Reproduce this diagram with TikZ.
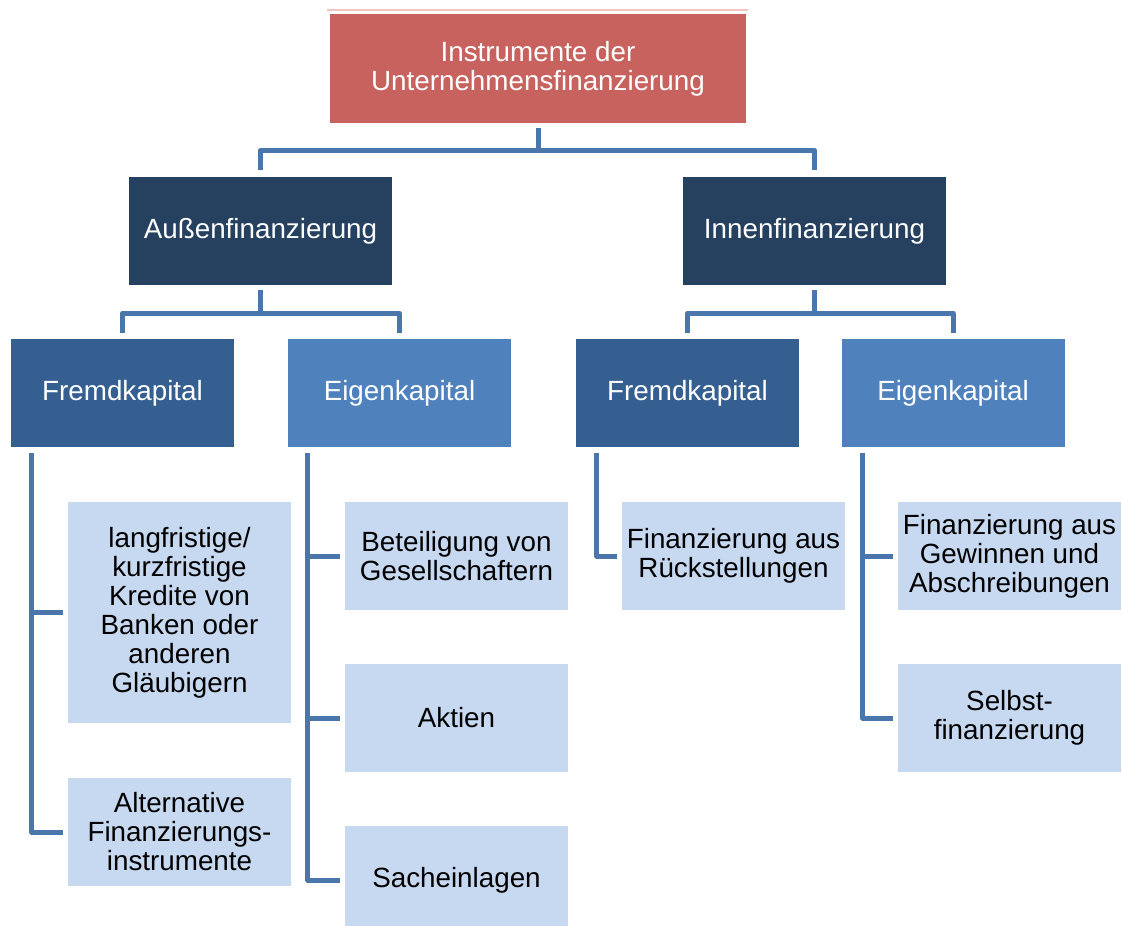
\documentclass[tikz,border=0pt]{standalone}
\usepackage{fontspec}
\setmainfont{Liberation Sans}
\definecolor{topred}{RGB}{200,98,94}
\definecolor{navy}{RGB}{38,64,96}
\definecolor{midblue}{RGB}{54,95,145}
\definecolor{ltblue}{RGB}{79,129,189}
\definecolor{paleblue}{RGB}{198,217,241}
\definecolor{linecol}{RGB}{74,118,172}
\definecolor{faint}{RGB}{242,196,194}
\tikzset{
  box/.style={rectangle, inner sep=0pt, minimum width=223pt, minimum height=108pt, align=center,
    font=\fontsize{27.8}{29}\selectfont},
  topbox/.style={box, fill=topred, text=white, minimum width=416pt, minimum height=109pt},
  l1box/.style={box, fill=navy, text=white, minimum width=263pt},
  fkbox/.style={box, fill=midblue, text=white},
  ekbox/.style={box, fill=ltblue, text=white},
  leaf/.style={box, fill=paleblue, text=black},
  conn/.style={draw=linecol, line width=5pt, line join=round}
}
\begin{document}
\begin{tikzpicture}[x=1pt,y=-1pt]
\useasboundingbox (0,0) rectangle (1122,926);
\fill[white] (0,0) rectangle (1122,926);
\draw[faint, line width=1.2pt] (327,10) -- (748,10);
% nodes
\node[topbox] (top) at (538,68.5) {Instrumente der\\Unternehmensfinanzierung};
\node[l1box] (aus) at (260.5,231) {Außenfinanzierung};
\node[l1box] (inn) at (814.5,231) {Innenfinanzierung};
\node[fkbox] (fk1) at (122.5,393) {Fremdkapital};
\node[ekbox] (ek1) at (399.5,393) {Eigenkapital};
\node[fkbox] (fk2) at (687.5,393) {Fremdkapital};
\node[ekbox] (ek2) at (953,393) {Eigenkapital};
\node[leaf, minimum height=221pt] (kred) at (179.5,612.5) {langfristige/\\kurzfristige\\Kredite von\\Banken oder\\anderen\\Gläubigern};
\node[leaf] (alt) at (179.5,832) {Alternative\\Finanzierungs-\\instrumente};
\node[leaf] (bet) at (456.5,556) {Beteiligung von\\Gesellschaftern};
\node[leaf] (akt) at (456.5,718) {Aktien};
\node[leaf] (sach) at (456.5,880) {Sacheinlagen};
\node[leaf] (rueck) at (733.5,556) {Finanzierung aus\\Rückstellungen};
\node[leaf] (gew) at (1009.5,556) {Finanzierung aus\\Gewinnen und\\Abschreibungen};
\node[leaf] (selb) at (1009.5,718) {Selbst-\\finanzierung};
% connectors level 0-1
\draw[conn] ([yshift=-5pt]top.south) -- ++(0,22) coordinate (m1);
\draw[conn] ([yshift=7pt]aus.north) |- (m1) -| ([yshift=7pt]inn.north);
% level 1-2
\draw[conn] ([yshift=-5pt]aus.south) -- ++(0,23) coordinate (m2);
\draw[conn] ([yshift=6pt]fk1.north) |- (m2) -| ([yshift=6pt]ek1.north);
\draw[conn] ([yshift=-5pt]inn.south) -- ++(0,23) coordinate (m3);
\draw[conn] ([yshift=6pt]fk2.north) |- (m3) -| ([yshift=6pt]ek2.north);
% leaves
\draw[conn] ([xshift=21pt,yshift=-6pt]fk1.south west) |- ([xshift=-5pt]kred.west);
\draw[conn] ([xshift=21pt,yshift=-6pt]fk1.south west) |- ([xshift=-5pt]alt.west);
\draw[conn] ([xshift=20pt,yshift=-6pt]ek1.south west) |- ([xshift=-5pt]bet.west);
\draw[conn] ([xshift=20pt,yshift=-6pt]ek1.south west) |- ([xshift=-5pt]akt.west);
\draw[conn] ([xshift=20pt,yshift=-6pt]ek1.south west) |- ([xshift=-5pt]sach.west);
\draw[conn] ([xshift=21pt,yshift=-6pt]fk2.south west) |- ([xshift=-5pt]rueck.west);
\draw[conn] ([xshift=21pt,yshift=-6pt]ek2.south west) |- ([xshift=-5pt]gew.west);
\draw[conn] ([xshift=21pt,yshift=-6pt]ek2.south west) |- ([xshift=-5pt]selb.west);
\end{tikzpicture}
\end{document}
